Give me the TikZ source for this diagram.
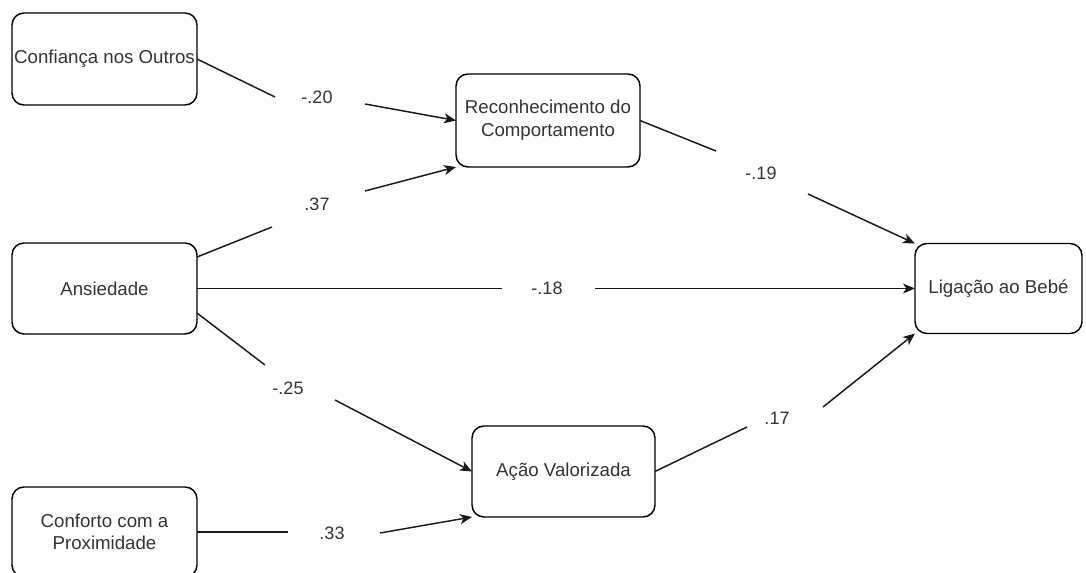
\documentclass[tikz,border=0pt]{standalone}
\usepackage{fontspec}
\setmainfont{Liberation Sans}
\usetikzlibrary{arrows.meta}
\definecolor{txt}{HTML}{333333}
\begin{document}
\begin{tikzpicture}[x=0.75pt,y=-0.75pt,
  box/.style={draw=black, line width=1.1pt, rounded corners=9pt, inner sep=0pt, outer sep=0pt,
    align=center, text=txt, font=\fontsize{14pt}{17pt}\selectfont},
  lab/.style={text=txt, inner sep=0pt, font=\fontsize{13.5pt}{16pt}\selectfont},
  seg/.style={draw=black!90, line width=1.1pt},
  arr/.style={seg, -{Stealth[length=9pt,width=7.5pt,inset=2.5pt]}}]
\useasboundingbox (0,0) rectangle (1086,573);
\clip (0,0) rectangle (1086,573);
% boxes
\node[box, minimum width=138.75pt, minimum height=69pt] (conf) at (104.5,59) {Confiança nos Outros};
\node[box, minimum width=138pt, minimum height=69.75pt] (rec) at (548,120.5) {Reconhecimento do\\Comportamento};
\node[box, minimum width=125.25pt, minimum height=67.5pt] (lig) at (998.5,288.5) {Ligação ao Bebé};
\node[box, minimum width=138.75pt, minimum height=68.25pt] (ans) at (104.5,288.5) {Ansiedade};
\node[box, minimum width=137.25pt, minimum height=68.25pt] (acao) at (563.5,471.5) {Ação Valorizada};
\node[box, minimum width=138.75pt, minimum height=67.5pt] (conft) at (104.5,532) {Conforto com a\\Proximidade};
% labels
\node[lab] (l1) at (317,97) {-.20};
\node[lab] (l2) at (317,204) {.37};
\node[lab] (l3) at (761,173) {-.19};
\node[lab] (l4) at (547,288) {-.18};
\node[lab] (l5) at (288,388) {-.25};
\node[lab] (l6) at (332,533) {.33};
\node[lab] (l7) at (777,418) {.17};
% gap ends
\coordinate (a1) at (275,97);  \coordinate (b1) at (365,104);
\coordinate (a2) at (272,227); \coordinate (b2) at (365,191);
\coordinate (a3) at (716,151); \coordinate (b3) at (808,194);
\coordinate (a4) at (502,288.5); \coordinate (b4) at (595,288.5);
\coordinate (a5) at (265,365); \coordinate (b5) at (335,400);
\coordinate (a6) at (288,532); \coordinate (b6) at (380,533);
\coordinate (a7) at (747,427); \coordinate (b7) at (823,407);
% connectors
\draw[seg] (conf.east) -- (a1);
\draw[arr] (b1) -- (rec.west);
\draw[seg] ([yshift=23.6pt]ans.east) -- (a2);
\draw[arr] (b2) -- (rec.south west);
\draw[seg] (rec.east) -- (a3);
\draw[arr] (b3) -- (lig.north west);
\draw[seg] (ans.east) -- (a4);
\draw[arr] (b4) -- (lig.west);
\draw[seg] ([yshift=-18.4pt]ans.east) -- (a5);
\draw[arr] (b5) -- (acao.west);
\draw[seg] (conft.east) -- (a6);
\draw[arr] (b6) -- (acao.south west);
\draw[seg] (acao.east) -- (a7);
\draw[arr] (b7) -- (lig.south west);
\end{tikzpicture}
\end{document}
